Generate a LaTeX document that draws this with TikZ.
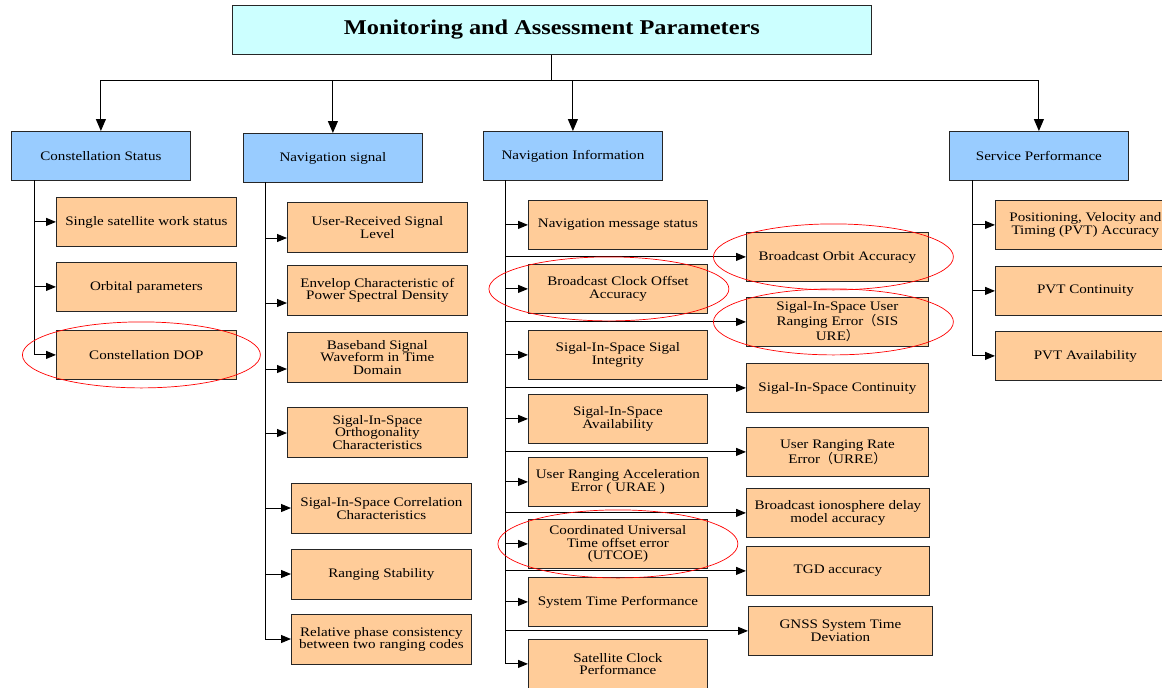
\documentclass[tikz,border=0pt]{standalone}
\usepackage{fontspec}
\setmainfont[FakeStretch = 1.16]{Liberation Serif}
\newfontfamily\cjk{Noto Sans CJK SC}
\usetikzlibrary{arrows.meta}
\definecolor{topcyan}{HTML}{CCFFFF}
\definecolor{catblue}{HTML}{99CCFF}
\definecolor{leafpeach}{HTML}{FFCC99}
\newcommand{\lp}{{\cjk （}}
\newcommand{\rp}{{\cjk ）}}

\begin{document}
\begin{tikzpicture}[x = 1pt, y = -1pt,
        box/.style = {draw = black!85, line width = 0.8pt, inner sep = 1pt, align = center, anchor = north west, font = \fontsize{13}{12.5}\selectfont},
        topbox/.style = {box, fill = topcyan, minimum width = 639, minimum height = 49, font = \bfseries\fontsize{21}{21}\selectfont},
        catbox/.style = {box, fill = catblue, minimum width = 179, minimum height = 49},
        leafbox/.style = {box, fill = leafpeach, minimum width = 180, minimum height = 49},
        link/.style = {line width = 1pt},
        arr/.style = {link, -{Triangle[length = 10pt, width = 8pt]}},
        ring/.style = {draw = red, line width = 0.7pt}]
    \path[use as bounding box] (0, 0) rectangle (1162, 688);
    \clip (0, 0) rectangle (1162, 688);
    \node[topbox] (top) at (232, 5) {Monitoring and Assessment Parameters};
    \foreach \name/\xpos/\ypos/\txt in {cs/11/131/Constellation Status, ns/243/133/Navigation signal, ni/483/131/Navigation Information, sp/949/131/Service Performance}{
        \node[catbox] (\name) at (\xpos, \ypos) {\txt};
    }
    \coordinate (bus) at (top.south |- 0, 80);
    \draw[link] (top.south) -- (bus);
    \draw[link] (bus -| cs.north) -- (bus -| sp.north);
    \foreach \name in {cs, ns, ni, sp}{
        \draw[arr, -{Triangle[length = 12pt, width = 10pt]}] (bus -| \name.north) -- (\name.north);
    }
    \coordinate (csT) at (34, 180);
    \coordinate (nsT) at (265, 182);
    \coordinate (niT) at (505, 180);
    \coordinate (spT) at (972, 180);
    \foreach \ypos/\txt [count = \i] in {197/Single satellite work status, 262/Orbital parameters, 330/Constellation DOP}{
        \node[leafbox] (cs\i) at (56, \ypos) {\txt};
        \draw[arr] (csT |- cs\i.west) -- (cs\i.west);
    }
    \draw[link] (csT) -- (csT |- cs3.west);
    \foreach \xpos/\ypos/\ay/\txt [count = \i] in {287/202/238/{User-Received Signal\\Level}, 287/265/303/{Envelop Characteristic of\\Power Spectral Density}, 287/332/369/{Baseband Signal\\Waveform in Time\\Domain}, 287/407/433/{Sigal-In-Space\\Orthogonality\\Characteristics}, 291/483/508/{Sigal-In-Space Correlation\\Characteristics}, 291/549/574/{Ranging Stability}, 291/614/639/{Relative phase consistency\\between two ranging codes}}{
        \node[leafbox, minimum height = 50] (ns\i) at (\xpos, \ypos) {\txt};
        \coordinate (nsA\i) at (265, \ay);
        \draw[arr] (nsA\i) -- (nsA\i -| ns\i.west);
    }
    \draw[link] (nsT) -- (nsA7);
    \foreach \ypos/\txt [count = \i] in {200/Navigation message status, 264/{Broadcast Clock Offset\\Accuracy}, 330/{Sigal-In-Space Sigal\\Integrity}, 394/{Sigal-In-Space\\Availability}, 457/{User Ranging Acceleration\\Error ( URAE )}, 519/{Coordinated Universal\\Time offset error\\(UTCOE)}, 577/System Time Performance, 639/{Satellite Clock\\Performance}}{
        \node[leafbox, minimum width = 179] (nl\i) at (528, \ypos) {\txt};
        \draw[arr] (niT |- nl\i.west) -- (nl\i.west);
    }
    \foreach \xpos/\ypos/\bw/\txt [count = \i] in {746/232/182/Broadcast Orbit Accuracy, 746/297/182/{Sigal-In-Space User\\Ranging Error\lp SIS\\URE\rp}, 746/363/182/Sigal-In-Space Continuity, 746/427/182/{User Ranging Rate\\Error\lp URRE\rp}, 746/488/183/{Broadcast ionosphere delay\\model accuracy}, 746/546/183/TGD accuracy, 748/606/184/{GNSS System Time\\Deviation}}{
        \node[leafbox, minimum width = \bw] (nr\i) at (\xpos, \ypos) {\txt};
        \draw[arr] (niT |- nr\i.west) -- (nr\i.west);
    }
    \draw[link] (niT) -- (niT |- nl8.west);
    \foreach \ypos/\txt [count = \i] in {200/{Positioning, Velocity and\\Timing (PVT) Accuracy}, 266/PVT Continuity, 331/PVT Availability}{
        \node[leafbox] (sp\i) at (995, \ypos) {\txt};
        \draw[arr] (spT |- sp\i.west) -- (sp\i.west);
    }
    \draw[link] (spT) -- (spT |- sp3.west);
    \draw[ring] ([xshift = -5]cs3.center) ellipse [x radius = 119, y radius = 33];
    \draw[ring] ([xshift = -9]nl2.center) ellipse [x radius = 120, y radius = 32];
    \draw[ring] ([xshift = -4]nr1.center) ellipse [x radius = 120, y radius = 33];
    \draw[ring] ([xshift = -4]nr2.center) ellipse [x radius = 120, y radius = 33];
    \draw[ring] (nl6.center) ellipse [x radius = 120, y radius = 34];
\end{tikzpicture}
\end{document}
